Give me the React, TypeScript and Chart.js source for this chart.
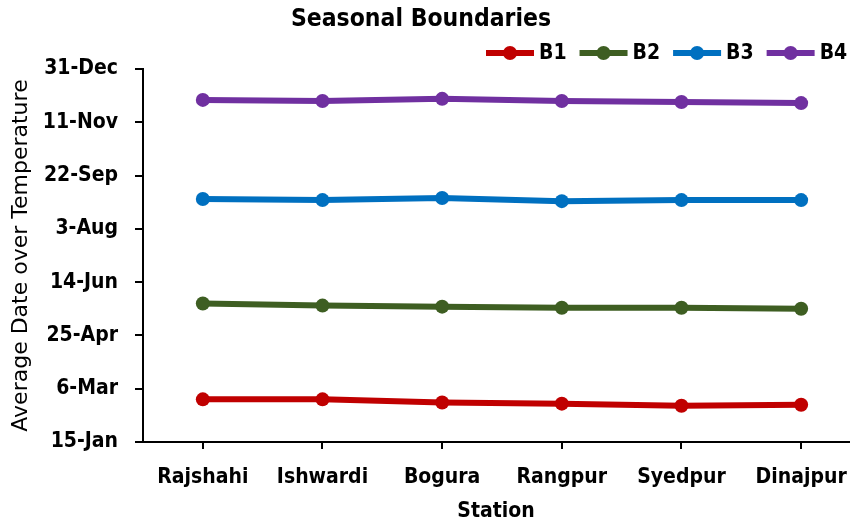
import React, { useEffect, useRef } from "react";
import { Chart, registerables } from "chart.js";

Chart.register(...registerables);

const stations = ["Rajshahi", "Ishwardi", "Bogura", "Rangpur", "Syedpur", "Dinajpur"];
// day of year (non-leap)
const b1 = [55, 55, 52, 51, 49, 50];
const b2 = [145, 143, 142, 141, 141, 140];
const b3 = [243, 242, 244, 241, 242, 242];
const b4 = [336, 335, 337, 335, 334, 333];
const seriesNames = ["B1", "B2", "B3", "B4"];
const seriesColors = ["#C00000", "#3E5E22", "#0070C0", "#7030A0"];
const yTickLabels = ["15-Jan", "6-Mar", "25-Apr", "14-Jun", "3-Aug", "22-Sep", "11-Nov", "31-Dec"];
const yMin = 15;
const yMax = 365;
const yStep = 50;

const FONT = '"DejaVu Sans Condensed", "DejaVu Sans", sans-serif';
const FONT_REG = '"DejaVu Sans", sans-serif';

const titleLegendPlugin = {
  id: "titleLegend",
  afterDraw(chart: any) {
    const ctx = chart.ctx as CanvasRenderingContext2D;
    ctx.save();
    ctx.fillStyle = "#000";
    ctx.font = `bold 24.5px ${FONT}`;
    ctx.textAlign = "center";
    ctx.textBaseline = "middle";
    ctx.fillText("Seasonal Boundaries", 421, 20);

    ctx.font = `bold 21px ${FONT}`;
    ctx.textAlign = "left";
    let x = 486;
    const y = 53;
    chart.data.datasets.forEach((ds: any) => {
      const c = ds.borderColor;
      ctx.strokeStyle = c;
      ctx.fillStyle = c;
      ctx.lineWidth = 6;
      ctx.beginPath();
      ctx.moveTo(x, y);
      ctx.lineTo(x + 48, y);
      ctx.stroke();
      ctx.beginPath();
      ctx.arc(x + 24, y, 7, 0, Math.PI * 2);
      ctx.fill();
      ctx.fillStyle = "#000";
      ctx.fillText(ds.label, x + 53, y + 1);
      x += 53 + ctx.measureText(ds.label).width + 13;
    });
    ctx.restore();
  },
};

export default function App() {
  const ref = useRef<HTMLCanvasElement>(null);
  useEffect(() => {
    if (!ref.current) return;
    const all = [b1, b2, b3, b4];
    const chart = new Chart(ref.current, {
      type: "line",
      data: {
        datasets: all.map((arr, k) => ({
          label: seriesNames[k],
          data: arr.map((v, i) => ({ x: i, y: v })),
          borderColor: seriesColors[k],
          backgroundColor: seriesColors[k],
          pointBackgroundColor: seriesColors[k],
          pointBorderColor: seriesColors[k],
          borderWidth: 6,
          pointRadius: 7,
          pointBorderWidth: 0,
          tension: 0,
        })),
      },
      options: {
        animation: false,
        responsive: false,
        layout: { padding: { top: 69, right: 6, left: 0, bottom: 0 } },
        plugins: {
          legend: { display: false },
          title: { display: false },
          tooltip: { enabled: false },
        },
        scales: {
          x: {
            type: "linear",
            min: -0.5,
            max: 5.4,
            afterBuildTicks: (scale: any) => {
              scale.ticks = stations.map((_, i) => ({ value: i }));
            },
            afterFit: (scale: any) => {
              scale.height = 82;
              scale.paddingLeft = 0;
              scale.paddingRight = 0;
            },
            ticks: {
              callback: (v: any) => stations[v] ?? "",
              color: "#000",
              font: { family: FONT, size: 21, weight: "bold" },
              padding: 16,
              maxRotation: 0,
              autoSkip: false,
            },
            grid: {
              drawOnChartArea: false,
              drawTicks: true,
              tickLength: 7,
              color: "#000",
              lineWidth: 2,
            },
            border: { display: true, color: "#000", width: 2 },
            title: {
              display: true,
              text: "Station",
              color: "#000",
              font: { family: FONT, size: 21, weight: "bold" },
              padding: { top: 0, bottom: 0 },
            },
          },
          y: {
            type: "linear",
            min: yMin,
            max: yMax,
            afterFit: (scale: any) => {
              scale.width = 143;
              scale.paddingTop = 0;
              scale.paddingBottom = 0;
            },
            ticks: {
              stepSize: yStep,
              callback: (v: any) => yTickLabels[Math.round((v - yMin) / yStep)] ?? "",
              color: "#000",
              font: { family: FONT, size: 21, weight: "bold" },
              padding: 17,
            },
            grid: {
              drawOnChartArea: false,
              drawTicks: true,
              tickLength: 8,
              color: "#000",
              lineWidth: 2,
            },
            border: { display: true, color: "#000", width: 2 },
            title: {
              display: true,
              text: "Average Date over Temperature",
              color: "#000",
              font: { family: FONT_REG, size: 22, weight: "normal" },
              padding: { top: 8, bottom: 0 },
            },
          },
        },
      },
      plugins: [titleLegendPlugin],
    });
    return () => chart.destroy();
  }, []);
  return (
    <div style={{ position: "fixed", left: 0, top: 0, width: 856, height: 524, background: "#fff" }}>
      <canvas ref={ref} width={856} height={524} />
    </div>
  );
}
